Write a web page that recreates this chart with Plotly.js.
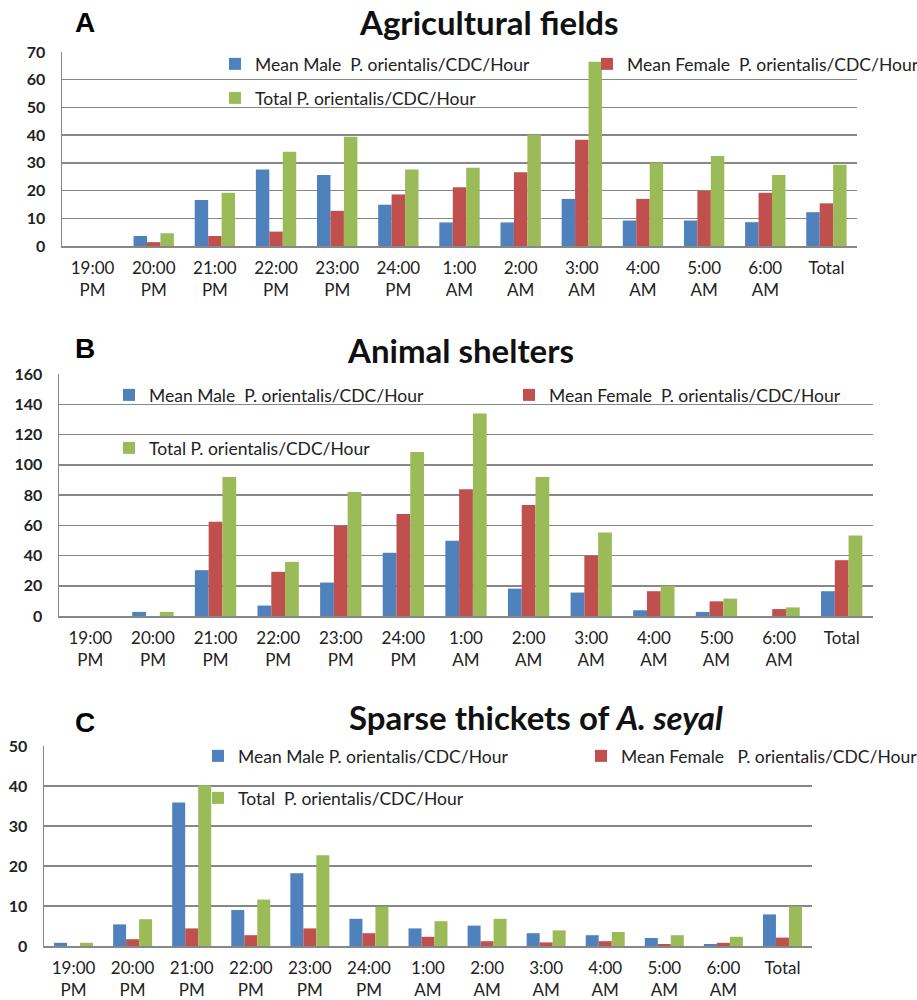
<!DOCTYPE html>
<html>
<head>
<meta charset="utf-8">
<script src="https://cdn.plot.ly/plotly-3.0.1.min.js"></script>
<style>html,body{margin:0;padding:0;background:#fff;}#chart{width:917px;height:1000px;}</style>
</head>
<body>
<div id="chart"></div>
<script>
// Categories (tick labels)
const categories = ["19:00<br>PM","20:00<br>PM","21:00<br>PM","22:00<br>PM","23:00<br>PM","24:00<br>PM","1:00<br>AM","2:00<br>AM","3:00<br>AM","4:00<br>AM","5:00<br>AM","6:00<br>AM","Total"];

// Panel A: Agricultural fields
const agriMale   = [0, 3.6, 16.6, 27.6, 25.6, 14.9, 8.5, 8.5, 17.0, 9.2, 9.2, 8.6, 12.2];
const agriFemale = [0, 1.4, 3.6, 5.2, 12.7, 18.6, 21.2, 26.6, 38.3, 17.0, 19.9, 19.2, 15.4];
const agriTotal  = [0, 4.6, 19.2, 34.0, 39.4, 27.6, 28.2, 40.1, 66.5, 30.0, 32.5, 25.6, 29.3];

// Panel B: Animal shelters
const shelMale   = [0, 2.7, 30.3, 6.9, 22.1, 41.8, 49.7, 18.1, 15.5, 3.8, 2.7, 0, 16.4];
const shelFemale = [0, 0, 62.3, 29.2, 59.7, 67.4, 83.8, 73.4, 39.8, 16.4, 9.7, 4.6, 36.9];
const shelTotal  = [0, 2.7, 91.9, 35.8, 82.0, 108.5, 133.9, 91.9, 55.2, 19.9, 11.5, 5.7, 53.3];

// Panel C: Sparse thickets of A. seyal
const thickMale   = [0.8, 5.4, 35.9, 9.0, 18.2, 6.8, 4.4, 5.1, 3.2, 2.7, 2.0, 0.5, 7.9];
const thickFemale = [0, 1.7, 4.4, 2.7, 4.4, 3.2, 2.3, 1.2, 0.9, 1.2, 0.5, 0.8, 2.1];
const thickTotal  = [0.8, 6.7, 40.2, 11.6, 22.7, 9.8, 6.2, 6.8, 3.9, 3.5, 2.7, 2.3, 9.9];

const panelTitles = ["Agricultural fields", "Animal shelters", "Sparse thickets of <i>A. seyal</i>"];
const panelLetters = ["A", "B", "C"];
const legendNamesA = ["Mean Male  P. orientalis/CDC/Hour", "Mean Female  P. orientalis/CDC/Hour", "Total P. orientalis/CDC/Hour"];
const legendNamesB = ["Mean Male  P. orientalis/CDC/Hour", "Mean Female  P. orientalis/CDC/Hour", "Total P. orientalis/CDC/Hour"];
const legendNamesC = ["Mean Male P. orientalis/CDC/Hour", "Mean Female   P. orientalis/CDC/Hour", "Total  P. orientalis/CDC/Hour"];

const colors = ["#4F81BD", "#C0504D", "#9BBB59"];
const W = 917, H = 1000;
const FONT = "Lato, 'Open Sans', sans-serif";

const panels = [
  {series:[agriMale, agriFemale, agriTotal], names:legendNamesA, x:"x", y:"y", leg:["legend","legend2","legend3"]},
  {series:[shelMale, shelFemale, shelTotal], names:legendNamesB, x:"x2", y:"y2", leg:["legend4","legend5","legend6"]},
  {series:[thickMale, thickFemale, thickTotal], names:legendNamesC, x:"x3", y:"y3", leg:["legend7","legend8","legend9"]}
];

const traces = [];
panels.forEach(p => {
  p.series.forEach((vals, i) => {
    traces.push({
      type:"bar", x:categories, y:vals, name:p.names[i],
      marker:{color:colors[i], line:{width:0}},
      xaxis:p.x, yaxis:p.y, legend:p.leg[i], hoverinfo:"y"
    });
  });
});

function px2x(px){ return px / W; }
function px2y(py){ return 1 - py / H; }

// plot areas in pixels: [left, right, top, bottom]
const areas = [[62, 857, 52, 246], [59, 873, 374, 616], [44, 812, 746, 946]];
const ranges = [[0,70,10],[0,160,20],[0,50,10]];

const layout = {
  width:W, height:H, margin:{l:0,r:0,t:0,b:0,autoexpand:false},
  paper_bgcolor:"#fff", plot_bgcolor:"#fff",
  barmode:"group", bargap:0.34, bargroupgap:0,
  font:{family:FONT, size:15, color:"#222"},
  showlegend:true,
  annotations:[], shapes:[]
};

const axNames = [["xaxis","yaxis"],["xaxis2","yaxis2"],["xaxis3","yaxis3"]];
const anchors = [["y","x"],["y2","x2"],["y3","x3"]];
areas.forEach((a, k) => {
  layout[axNames[k][0]] = {
    domain:[px2x(a[0]), px2x(a[1])], anchor:anchors[k][0],
    showline:true, linecolor:"#878787", linewidth:1.5,
    ticks:"", tickfont:{family:FONT, size:17, color:"#222"},
    ticklabelstandoff:6, fixedrange:true, type:"category"
  };
  layout[axNames[k][1]] = {
    domain:[px2y(a[3]), px2y(a[2])], anchor:anchors[k][1],
    range:[ranges[k][0], ranges[k][1]], dtick:ranges[k][2], tick0:0,
    showline:true, linecolor:"#878787", linewidth:1.5,
    showgrid:true, gridcolor:"#878787", gridwidth:1.5,
    zeroline:false, ticks:"", tickfont:{family:FONT, size:16, color:"#222", weight:"bold"},
    ticklabelstandoff:12, fixedrange:true
  };
});

// Titles and letters
const titlePos = [[489, 22], [461, 350], [536, 717]];
const letterY = [22, 348, 722];
panelTitles.forEach((t, k) => {
  layout.annotations.push({
    text:t, xref:"paper", yref:"paper", x:px2x(titlePos[k][0]), y:px2y(titlePos[k][1]),
    xanchor:"center", yanchor:"middle", showarrow:false,
    font:{family:FONT, size:33, color:"#111", weight:"bold"}
  });
  layout.annotations.push({
    text:"<b>"+panelLetters[k]+"</b>", xref:"paper", yref:"paper", x:px2x(85), y:px2y(letterY[k]),
    xanchor:"center", yanchor:"middle", showarrow:false,
    font:{family:"'Liberation Sans', Arial, sans-serif", size:28, color:"#000"}
  });
});

// Legends: marker centers in px
const legPos = [
  [238, 64], [610, 64], [238, 98],
  [132, 395], [532, 395], [132, 448],
  [221, 756], [604, 756], [221, 798]
];
const legKeys = ["legend","legend2","legend3","legend4","legend5","legend6","legend7","legend8","legend9"];
legKeys.forEach((key, i) => {
  layout[key] = {
    x:px2x(legPos[i][0] - 23), y:px2y(legPos[i][1]), xanchor:"left", yanchor:"middle",
    xref:"paper", yref:"paper",
    bgcolor:"rgba(0,0,0,0)", borderwidth:0,
    font:{family:FONT, size:17.5, color:"#222"},
    itemclick:false, itemdoubleclick:false
  };
});

Plotly.newPlot("chart", traces, layout, {staticPlot:true, displayModeBar:false});
</script>
</body>
</html>
